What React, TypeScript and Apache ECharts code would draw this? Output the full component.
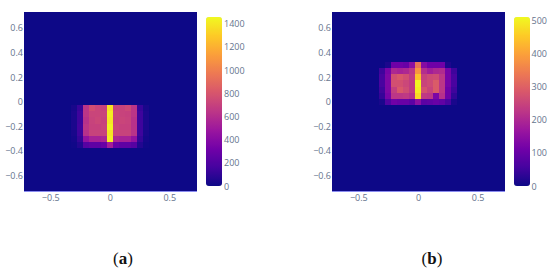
import React, { useEffect, useRef } from "react";
import * as echarts from "echarts";

const plasma = ["#0d0887", "#46039f", "#7201a8", "#9c179e", "#bd3786", "#d8576b", "#ed7953", "#fb9f3a", "#fdca26", "#f0f921"];
const binCenters = ["-0.70","-0.65","-0.60","-0.55","-0.50","-0.45","-0.40","-0.35","-0.30","-0.25","-0.20","-0.15","-0.10","-0.05","0.00","0.05","0.10","0.15","0.20","0.25","0.30","0.35","0.40","0.45","0.50","0.55","0.60","0.65","0.70"];
const xTicks = ["-0.50", "0.00", "0.50"];
const yTicks = ["-0.60", "-0.40", "-0.20", "0.00", "0.20", "0.40", "0.60"];
const activeColumns = ["-0.30","-0.25","-0.20","-0.15","-0.10","-0.05","0.00","0.05","0.10","0.15","0.20","0.25","0.30"];

const panelARows = ["-0.05","-0.10","-0.15","-0.20","-0.25","-0.30","-0.35"];
const panelAValues = [
  [30,120,640,760,720,710,1380,710,710,740,640,120,30],
  [40,140,640,720,720,720,1420,720,710,700,640,140,40],
  [40,140,620,710,730,710,1400,710,720,710,620,140,40],
  [40,150,640,700,700,720,1440,720,700,700,620,140,40],
  [30,140,620,710,710,710,1390,710,710,710,630,140,30],
  [20,110,450,540,540,560,1420,560,540,540,450,110,20],
  [8,60,220,250,250,280,520,280,250,250,220,60,8],
];
const panelBRows = ["0.30","0.25","0.20","0.15","0.10","0.05","0.00"];
const panelBValues = [
  [0,15,110,110,100,150,330,140,110,110,110,15,0],
  [50,120,200,190,200,225,380,210,180,200,205,120,50],
  [60,130,270,285,270,235,440,245,260,265,225,120,60],
  [60,130,270,270,255,235,505,250,260,290,225,120,60],
  [50,130,240,285,265,235,495,275,250,290,225,110,50],
  [40,120,225,225,230,215,470,230,225,125,215,110,35],
  [12,70,110,100,100,85,150,85,90,100,90,60,12],
];
const panelAMax = 1458;
const panelBMax = 510;
const panelAStep = 200;
const panelBStep = 100;

function cells(rows: string[], values: number[][]) {
  const out: [string, string, number][] = [];
  binCenters.forEach((x) => binCenters.forEach((y) => {
    const r = rows.indexOf(y);
    const c = activeColumns.indexOf(x);
    out.push([x, y, r >= 0 && c >= 0 ? values[r][c] : 0]);
  }));
  return out;
}

const fmt = (v: string) => {
  const n = Number(v);
  return n === 0 ? "0" : String(n).replace("-", "\u2212");
};
const labelFont = { color: "#65748d", fontSize: 9, fontFamily: "Open Sans" };
const edge = { show: true, lineStyle: { color: "#8a8cf0", width: 1 } };

function panelAxes(gridIndex: number) {
  const idx = (ticks: string[]) => (i: number) => ticks.includes(binCenters[i]);
  return {
    x: { type: "category", gridIndex, data: binCenters, axisTick: { show: false }, axisLine: edge, splitLine: { show: false },
      axisLabel: { ...labelFont, margin: 2, interval: idx(xTicks), formatter: fmt } },
    y: { type: "category", gridIndex, data: binCenters, axisTick: { show: false }, axisLine: edge, splitLine: { show: false },
      axisLabel: { ...labelFont, margin: 1, interval: idx(yTicks), formatter: fmt } },
  };
}
function barAxes(gridIndex: number, max: number, interval: number) {
  return {
    x: { type: "value", gridIndex, show: false, min: 0, max: 1 },
    y: { type: "value", gridIndex, min: 0, max, interval, position: "right", axisLine: { show: false }, axisTick: { show: false }, splitLine: { show: false },
      axisLabel: { ...labelFont, margin: 2, showMaxLabel: false, formatter: (v: number) => String(v) } },
  };
}
const a1 = panelAxes(0), a2 = panelAxes(1), b1 = barAxes(2, panelAMax, panelAStep), b2 = barAxes(3, panelBMax, panelBStep);

export default function App() {
  const ref = useRef<HTMLDivElement>(null);
  useEffect(() => {
    const chart = echarts.init(ref.current!, undefined, { renderer: "svg" });
    const vm = (seriesIndex: number, max: number, left: number) => ({
      type: "continuous", seriesIndex, min: 0, max, left, top: 17, itemWidth: 16, itemHeight: 169, padding: 0,
      calculable: false, hoverLink: false, inRange: { color: plasma }, textStyle: { color: "transparent" },
    });
    const heat = (xAxisIndex: number, yAxisIndex: number, data: any[]) => ({
      type: "heatmap", xAxisIndex, yAxisIndex, data, progressive: 0, itemStyle: { borderWidth: 0 }, emphasis: { disabled: true },
    });
    const caption = (x: number, letter: string) => ({
      type: "text", x, y: 250,
      style: { rich: { p: { font: "17px 'Liberation Serif'", fill: "#111" }, b: { font: "bold 17px 'Liberation Serif'", fill: "#111" } },
        text: `{p|(}{b|${letter}}{p|)}`, align: "center" },
    });
    chart.setOption({
      animation: false,
      backgroundColor: "#fff",
      grid: [
        { left: 24, top: 12.5, width: 172.5, height: 178.5, show: true, backgroundColor: "#0d0887", borderWidth: 0 },
        { left: 332, top: 12.5, width: 173, height: 178.5, show: true, backgroundColor: "#0d0887", borderWidth: 0 },
        { left: 206, top: 17, width: 16, height: 169 },
        { left: 514, top: 17, width: 16, height: 169 },
      ],
      xAxis: [a1.x, a2.x, b1.x, b2.x],
      yAxis: [a1.y, a2.y, b1.y, b2.y],
      visualMap: [vm(0, panelAMax, 206), vm(1, panelBMax, 514)],
      series: [heat(0, 0, cells(panelARows, panelAValues)), heat(1, 1, cells(panelBRows, panelBValues))],
      graphic: [caption(123, "a"), caption(432, "b")],
    } as any);
    return () => chart.dispose();
  }, []);
  return (
    <>
      <style>{"svg path { shape-rendering: crispEdges; }"}</style>
      <div ref={ref} style={{ position: "fixed", left: 0, top: 0, width: 550, height: 276 }} />
    </>
  );
}
